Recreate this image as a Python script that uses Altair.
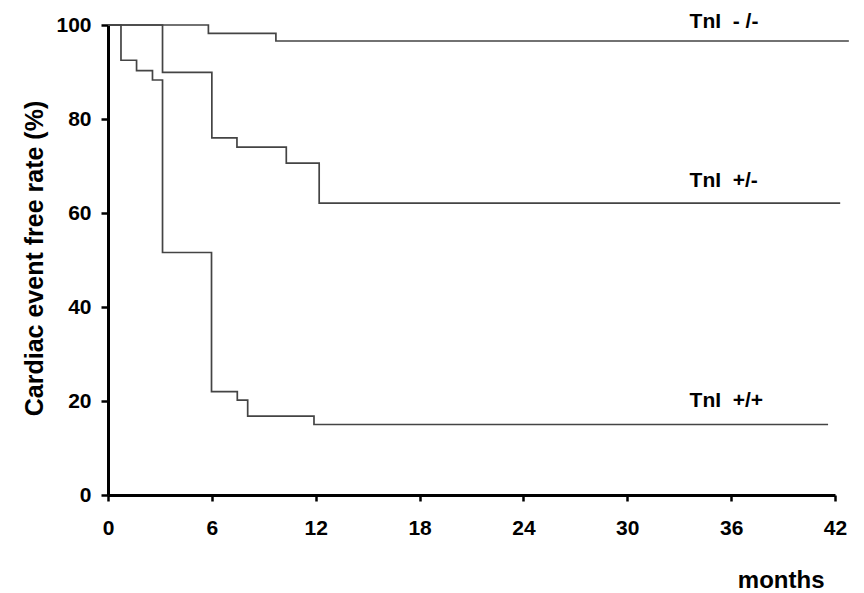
import altair as alt
import pandas as pd

# Kaplan-Meier style step curves (months, cardiac event free rate %)
neg_neg_months = [0, 5.8, 9.7, 42.8]
neg_neg_rate = [100, 98.2, 96.6, 96.6]

pos_neg_months = [0, 3.15, 6.0, 7.45, 10.3, 12.2, 42.3]
pos_neg_rate = [100, 89.9, 76.0, 74.0, 70.6, 62.1, 62.1]

pos_pos_months = [0, 0.75, 1.65, 2.57, 3.15, 5.98, 7.47, 8.07, 11.9, 41.6]
pos_pos_rate = [100, 92.5, 90.3, 88.3, 51.6, 22.0, 20.2, 16.8, 15.0, 15.0]

label_text = ["TnI\u00a0\u00a0-\u00a0/-", "TnI\u00a0\u00a0+/-", "TnI\u00a0\u00a0+/+"]
label_month = [33.6, 33.6, 33.6]
label_rate = [100.6, 66.8, 19.9]

x_ticks = [0, 6, 12, 18, 24, 30, 36, 42]
y_ticks = [0, 20, 40, 60, 80, 100]

rows = []
for name, ms, rs in [("-/-", neg_neg_months, neg_neg_rate),
                     ("+/-", pos_neg_months, pos_neg_rate),
                     ("+/+", pos_pos_months, pos_pos_rate)]:
    for i, (m, r) in enumerate(zip(ms, rs)):
        rows.append({"group": name, "month": m, "rate": r, "order": i})
df = pd.DataFrame(rows)
labels = pd.DataFrame({"text": label_text, "month": label_month, "rate": label_rate})

FONT = "Liberation Sans"

x_scale = alt.Scale(domain=[0, 42], nice=False, zero=False)
y_scale = alt.Scale(domain=[0, 100], nice=False)

lines = alt.Chart(df).mark_line(
    interpolate="step-after", color="#444444", strokeWidth=1.7
).encode(
    x=alt.X("month:Q", scale=x_scale,
            axis=alt.Axis(values=x_ticks, title="months", grid=False,
                          domainColor="black", domainWidth=3,
                          tickColor="black", tickWidth=2.5, tickSize=6,
                          labelFont=FONT, labelFontSize=21, labelFontWeight="bold",
                          labelColor="black", labelPadding=16,
                          labelFlush=False, labelOverlap=False,
                          titleFont=FONT, titleFontSize=24, titleFontWeight="bold",
                          titleColor="black", titleX=716, titleY=92,
                          titleAlign="right", titleBaseline="alphabetic",
                          titleAnchor="end")),
    y=alt.Y("rate:Q", scale=y_scale,
            axis=alt.Axis(values=y_ticks, title="Cardiac event free rate (%)", grid=False,
                          domainColor="black", domainWidth=3,
                          tickColor="black", tickWidth=2.5, tickSize=7,
                          labelFont=FONT, labelFontSize=21, labelFontWeight="bold",
                          labelColor="black", labelPadding=10,
                          labelFlush=False, labelOverlap=False,
                          titleFont=FONT, titleFontSize=25, titleFontWeight="bold",
                          titleColor="black", titleX=-74, titleY=233,
                          titleAngle=270, titleAlign="center", titleBaseline="middle")),
    detail="group:N",
    order="order:Q",
)

text = alt.Chart(labels).mark_text(
    align="left", baseline="middle", font=FONT, fontSize=21,
    fontWeight="bold", color="black"
).encode(
    x=alt.X("month:Q", scale=x_scale),
    y=alt.Y("rate:Q", scale=y_scale),
    text="text:N",
)

chart = alt.layer(lines, text).properties(
    width=727, height=470,
    autosize=alt.AutoSizeParams(type="none"),
    padding={"left": 108, "top": 25, "right": 29, "bottom": 98},
    background="white",
).configure_view(stroke=None)

chart.save("out.html", embed_options={"renderer": "svg", "actions": False})
